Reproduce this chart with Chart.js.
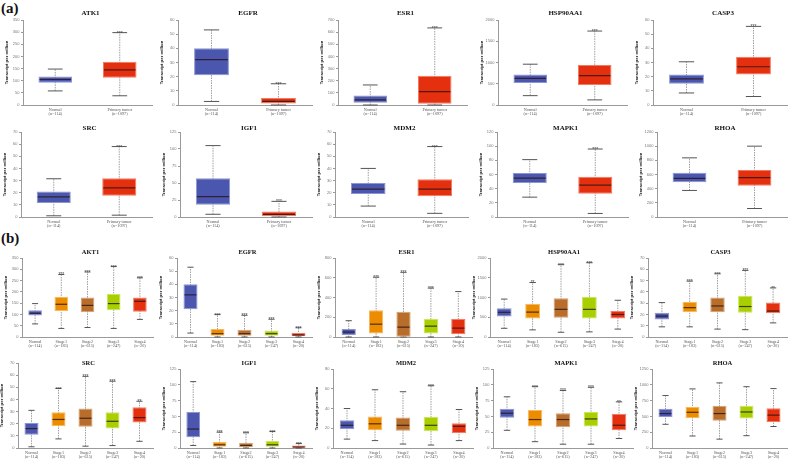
<!DOCTYPE html>
<html>
<head>
<meta charset="utf-8">
<script src="https://cdn.jsdelivr.net/npm/chart.js@4"></script>
<style>
  body { margin: 0; width: 793px; height: 461px; background: #fff; position: relative; overflow: hidden; }
  .panel { position: absolute; }
  .tag { position: absolute; font: bold 15px "Liberation Serif", serif; color: #111; }
</style>
</head>
<body>
<div class="tag" style="left:1px;top:0px">(a)</div>
<div class="tag" style="left:1px;top:230px">(b)</div>
<script>
// groups and sample counts
const groupsA = ['Normal', 'Primary tumor'];
const countsA = ['(n=114)', '(n=1097)'];
const groupsB = ['Normal', 'Stage1', 'Stage2', 'Stage3', 'Stage4'];
const countsB = ['(n=114)', '(n=183)', '(n=615)', '(n=247)', '(n=20)'];

const genesA = ['ATK1', 'EGFR', 'ESR1', 'HSP90AA1', 'CASP3', 'SRC', 'IGF1', 'MDM2', 'MAPK1', 'RHOA'];
const genesB = ['AKT1', 'EGFR', 'ESR1', 'HSP90AA1', 'CASP3', 'SRC', 'IGF1', 'MDM2', 'MAPK1', 'RHOA'];

// y axis max / step per gene
const yMaxA = [350, 60, 700, 2000, 60, 70, 125, 70, 120, 1200];
const yStepA = [50, 10, 100, 500, 10, 10, 25, 10, 20, 200];
const yMaxB = [350, 60, 800, 2000, 70, 70, 125, 80, 125, 1250];
const yStepB = [50, 10, 200, 500, 10, 10, 25, 20, 25, 250];

// box stats per group: [min, q1, median, q3, max]
const a_ATK1 = [[58, 92, 105, 117, 148], [38, 112, 145, 178, 298]];
const a_EGFR = [[2.5, 21, 32, 40, 53], [0, 1, 2.5, 5, 15]];
const a_ESR1 = [[0, 18, 42, 78, 165], [0, 10, 110, 240, 635]];
const a_HSP90AA1 = [[220, 520, 625, 720, 960], [120, 470, 690, 940, 1740]];
const a_CASP3 = [[8.5, 15, 18.5, 21.5, 30.5], [6, 21.5, 27, 34, 55.5]];
const a_SRC = [[1, 11.5, 16.5, 21, 31.5], [1.5, 17.5, 24, 32, 58]];
const a_IGF1 = [[4, 18, 30, 57, 105], [0, 1, 4, 8, 23]];
const a_MDM2 = [[9, 19, 23, 28, 40], [3, 17, 23, 31, 58]];
const a_MAPK1 = [[28, 48, 55, 62, 81], [5, 33, 45, 57, 96]];
const a_RHOA = [[375, 490, 545, 625, 835], [120, 440, 555, 665, 1000]];

const b_AKT1 = [[58, 95, 105, 118, 148], [38, 115, 145, 178, 277], [42, 110, 140, 175, 288], [38, 118, 148, 190, 312], [78, 112, 158, 175, 262]];
const b_EGFR = [[3, 21, 32, 40, 53], [0, 1, 2.5, 6, 17], [0, 1, 2.5, 5.5, 16.5], [0, 1, 2.5, 5, 13.5], [0, 0.5, 1.5, 3, 7]];
const b_ESR1 = [[0, 20, 50, 80, 165], [0, 35, 130, 270, 605], [0, 2, 100, 255, 655], [0, 35, 110, 185, 495], [0, 30, 90, 185, 460]];
const b_HSP90AA1 = [[220, 520, 625, 730, 960], [180, 470, 630, 840, 1380], [120, 490, 700, 980, 1830], [130, 470, 700, 1010, 1880], [200, 470, 570, 660, 930]];
const b_CASP3 = [[9, 15.5, 18.5, 21.5, 30.5], [9, 22, 26, 31, 49.5], [7, 22, 27.5, 35, 56], [6.5, 21.5, 27, 36.5, 59], [12.5, 21, 23, 30.5, 43.5]];
const b_SRC = [[1, 11, 16, 20.5, 31], [7.5, 18, 23.5, 29.5, 49], [1.5, 17.5, 24.5, 32.5, 59], [2, 16, 22, 29.5, 55], [5.5, 21, 25, 33.5, 38.5]];
const b_IGF1 = [[4, 17, 30, 57, 105], [0, 2, 5, 10, 25], [0, 1, 4, 8, 24], [0, 2, 5, 11, 26], [0, 0.5, 1.5, 4, 7]];
const b_MDM2 = [[9, 19, 23, 28, 40], [7.5, 18, 24.5, 32, 59], [4, 17.5, 23, 31, 57], [3, 17, 23, 31.5, 63], [7.5, 15, 22, 25, 39]];
const b_MAPK1 = [[28, 48, 55, 62, 81], [10, 34, 45, 60, 97], [6, 33, 45, 55, 91], [6, 34, 46, 57, 96], [15, 28, 36, 54, 73]];
const b_RHOA = [[375, 490, 545, 620, 830], [190, 470, 565, 650, 935], [140, 430, 545, 670, 1030], [195, 465, 570, 670, 970], [340, 410, 520, 630, 940]];

// significance marks per group
const starsA = [
  ['', '***'], ['', '***'], ['', '***'], ['', '***'], ['', '***'],
  ['', '***'], ['', '***'], ['', '***'], ['', '***'], ['', '']
];
const starsB = [
  ['', '***', '***', '***', '***'], ['', '***', '***', '***', '***'], ['', '***', '***', '***', ''],
  ['', '**', '***', '***', ''], ['', '***', '***', '***', '**'], ['', '***', '***', '***', '**'],
  ['', '***', '***', '***', '***'], ['', '', '', '***', ''], ['', '***', '***', '***', '**'], ['', '', '', '', '']
];

const dataA = [a_ATK1, a_EGFR, a_ESR1, a_HSP90AA1, a_CASP3, a_SRC, a_IGF1, a_MDM2, a_MAPK1, a_RHOA];
const dataB = [b_AKT1, b_EGFR, b_ESR1, b_HSP90AA1, b_CASP3, b_SRC, b_IGF1, b_MDM2, b_MAPK1, b_RHOA];

const fillA = ['#4b57ae', '#e4300f'];
const edgeA = ['#8c94d2', '#f27a62'];
const fillB = ['#4b57ae', '#ec8c00', '#b86e2a', '#a8d000', '#e4300f'];
const edgeB = ['#8c94d2', '#f6b95c', '#d6a070', '#cde55c', '#f27a62'];

// plot rectangles (left, right) per row, and vertical layout
const rowCols = [
  [[23, 152], [178, 312], [338, 467], [498, 627], [653, 787]],
  [[21, 152], [180, 312], [335, 468], [497, 628], [657, 787]],
  [[22, 153], [177, 312], [335, 472], [490, 632], [648, 787]],
  [[18, 153], [180, 312], [333, 473], [493, 633], [652, 787]]
];
const rowY = [
  { wrap: 4, top: 20, bottom: 105, title: 13, size: 7 },
  { wrap: 119, top: 132, bottom: 217, title: 128, size: 7 },
  { wrap: 243, top: 258, bottom: 337, title: 252, size: 6.5 },
  { wrap: 355, top: 369, bottom: 448, title: 363, size: 6.5 }
];

const boxPlugin = {
  id: 'boxWhiskers',
  beforeDatasetsDraw(chart) {
    const ds = chart.data.datasets[0];
    const { ctx, scales: { x, y } } = chart;
    const meta = chart.getDatasetMeta(0);
    ds.stats.forEach((b, i) => {
      const cx = x.getPixelForValue(i);
      const half = meta.data[i].width * 0.22;
      ctx.save();
      ctx.strokeStyle = '#a0a0a0';
      ctx.lineWidth = 1;
      ctx.setLineDash([1.5, 1]);
      ctx.beginPath();
      ctx.moveTo(cx, y.getPixelForValue(b[0]));
      ctx.lineTo(cx, y.getPixelForValue(b[4]));
      ctx.stroke();
      ctx.setLineDash([]);
      ctx.strokeStyle = '#555';
      [b[0], b[4]].forEach(v => {
        const py = y.getPixelForValue(v);
        ctx.beginPath();
        ctx.moveTo(cx - half, py);
        ctx.lineTo(cx + half, py);
        ctx.stroke();
      });
      ctx.restore();
    });
  },
  afterDatasetsDraw(chart) {
    const ds = chart.data.datasets[0];
    const { ctx, chartArea, scales: { x, y } } = chart;
    const meta = chart.getDatasetMeta(0);
    ctx.save();
    ds.stats.forEach((b, i) => {
      const cx = x.getPixelForValue(i);
      const half = meta.data[i].width / 2 - 1;
      const py = y.getPixelForValue(b[2]);
      ctx.strokeStyle = 'rgba(40,20,20,0.8)';
      ctx.lineWidth = 1.2;
      ctx.beginPath();
      ctx.moveTo(cx - half, py);
      ctx.lineTo(cx + half, py);
      ctx.stroke();
      if (ds.stars[i]) {
        ctx.fillStyle = '#444';
        ctx.font = '5px "Liberation Sans"';
        ctx.textAlign = 'center';
        ctx.textBaseline = 'alphabetic';
        ctx.fillText(ds.stars[i], cx, y.getPixelForValue(b[4]) + 2);
      }
    });
    ctx.fillStyle = '#111';
    ctx.font = 'bold ' + ds.titleSize + 'px "Liberation Serif"';
    ctx.textAlign = 'center';
    ctx.textBaseline = 'middle';
    ctx.fillText(ds.gene, (chartArea.left + chartArea.right) / 2 + 3, ds.titleY);
    ctx.restore();
  }
};

function makeChart(row, col, gene, groups, counts, stats, stars, yMax, yStep, fills, edges) {
  const [left, right] = rowCols[row][col];
  const ry = rowY[row];
  let top = ry.top;
  if (row === 3 && col === 0) top = 363;
  const div = document.createElement('div');
  div.className = 'panel';
  const wl = left - 22;
  div.style.left = wl + 'px';
  div.style.top = ry.wrap + 'px';
  div.style.width = (right - left + 25) + 'px';
  div.style.height = (ry.bottom - ry.wrap + 14) + 'px';
  const canvas = document.createElement('canvas');
  div.appendChild(canvas);
  document.body.appendChild(div);

  new Chart(canvas, {
    type: 'bar',
    data: {
      labels: groups.map((g, i) => [g, counts[i]]),
      datasets: [{
        data: stats.map(s => [s[1], s[3]]),
        stats: stats,
        stars: stars,
        gene: gene,
        titleY: ry.title - ry.wrap,
        titleSize: ry.size,
        backgroundColor: fills,
        borderColor: edges,
        borderWidth: 1,
        borderSkipped: false,
        barPercentage: 0.52,
        categoryPercentage: 1
      }]
    },
    options: {
      animation: false,
      responsive: true,
      maintainAspectRatio: false,
      layout: { padding: { top: top - ry.wrap, right: 3 } },
      plugins: { legend: { display: false }, tooltip: { enabled: false } },
      scales: {
        x: {
          grid: { display: false, drawTicks: false, tickLength: 0 },
          border: { color: '#9a9a9a' },
          ticks: {
            font: { size: 4.2, family: 'Liberation Serif', lineHeight: 1.15 },
            color: '#555', padding: 2, maxRotation: 0, autoSkip: false
          },
          afterFit: s => { s.height = 14; }
        },
        y: {
          min: 0,
          max: yMax,
          border: { color: '#9a9a9a' },
          grid: { drawOnChartArea: false, drawTicks: true, tickLength: 2, color: '#9a9a9a' },
          ticks: {
            stepSize: yStep, font: { size: 4, family: 'Liberation Sans' }, color: '#777', padding: 1.5,
            callback: v => String(v)
          },
          title: {
            display: true, text: 'Transcript per million', color: '#222',
            font: { size: 4.3, weight: 'bold', family: 'Liberation Sans' }, padding: { top: 3, bottom: 0 }
          },
          afterFit: s => { s.width = 22; }
        }
      }
    },
    plugins: [boxPlugin]
  });
}

for (let g = 0; g < 10; g++) {
  makeChart(Math.floor(g / 5), g % 5, genesA[g], groupsA, countsA, dataA[g], starsA[g], yMaxA[g], yStepA[g], fillA, edgeA);
  makeChart(2 + Math.floor(g / 5), g % 5, genesB[g], groupsB, countsB, dataB[g], starsB[g], yMaxB[g], yStepB[g], fillB, edgeB);
}
</script>
</body>
</html>
